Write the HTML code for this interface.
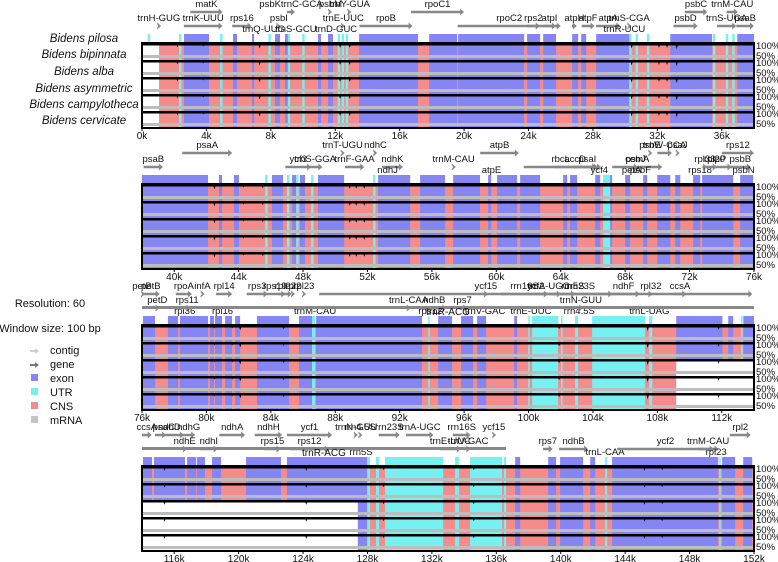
<!DOCTYPE html>
<html><head><meta charset="utf-8"><style>
html,body{margin:0;padding:0;background:#fff;}
svg{display:block;font-family:"Liberation Sans",sans-serif;}
</style></head><body>
<svg id="chart" width="778" height="562" viewBox="0 0 778 562" xmlns="http://www.w3.org/2000/svg"></svg>
<script>
// ---- data (kb, global coordinate) ----
const exonStarts=[2.61,5.65,6.83,8.26,8.88,10.93,11.55,13.48,17.83,19.63,23.91,24.91,26.71,27.27,28.2,32.8,36.96,
 38.0,42.78,43.71,46.07,47.32,47.81,48.93,52.66,55.27,57.32,59.49,60.05,61.48,64.15,64.58,66.14,66.94,68.0,69.12,69.99,71.11,72.22,72.78,75.14,
 76.06,77.61,78.36,80.22,80.53,81.16,81.78,83.14,85.75,86.81,94.39,95.81,96.81,99.11,109.17,112.4,113.34,
 114.06,114.75,116.8,117.4,118.35,120.46,123.0,137.17,139.22,139.96,141.83,143.19,150.02,151.33];
const exonEnds=[4.16,5.9,6.96,8.57,9.07,11.12,11.86,17.14,19.57,23.73,24.72,25.71,27.08,27.58,30.31,35.4,38.0,
 42.1,42.97,44.02,46.76,47.57,48.12,50.55,54.65,56.82,58.99,59.68,61.29,62.72,64.4,65.02,66.45,67.19,68.31,69.37,70.8,71.42,72.66,74.71,75.95,
 76.81,78.24,80.1,80.47,80.97,81.59,82.09,85.13,86.56,93.39,95.25,96.56,97.37,99.29,112.04,112.71,114.0,
 114.62,116.67,117.35,117.91,118.91,122.63,127.98,137.48,139.71,141.39,142.14,149.78,150.83,151.89];
const utrStarts=[0.35,2.3,4.85,7.85,9.05,9.95,12.15,12.4,12.65,30.25,30.65,31.35,35.45,36.25,36.65,
 45.65,47.0,47.58,48.5,52.35,66.63,86.56,93.77,99.98,100.22,102.02,102.89,103.95,107.49,113.2,
 127.98,128.53,129.09,133.44,134.37,136.48,142.76,149.84];
const utrEnds=[0.5,2.45,5.0,8.0,9.2,10.1,12.3,12.55,12.8,30.4,30.8,31.5,35.6,36.4,36.8,
 45.8,47.15,47.72,48.65,52.5,67.07,86.75,93.83,100.04,101.84,102.09,103.08,107.24,107.68,113.3,
 128.16,128.72,132.7,133.69,136.36,136.61,142.88,149.9];
const gapStarts=[0,0,0,0,0,109.17,109.17,109.17,114,114,114];
const gapEnds=[1.06,1.06,1.06,1.06,1.06,114,114,114,127.4,127.4,127.4];
const gapRows=[0,1,2,3,4,2,3,4,2,3,4];
const dipKb=[2.2,3.8,7.3,12.3,12.9,30.4,32.1,32.6,33.2,42.5,44.3,45.5,50.9,51.3,51.8,80.5,81.6,82.1,84.8,101.9,107.4,111.8,115.4,124.2,129.0,134.6,145.2,146.3];
const dipDepth=[0.3,0.2,0.5,0.4,0.4,0.5,0.4,0.4,0.6,0.5,0.2,0.3,0.4,0.4,0.4,0.2,0.2,0.5,0.3,0.3,0.6,0.4,0.4,0.4,0.3,0.3,0.4,0.3];
const tickLabels=["0k","4k","8k","12k","16k","20k","24k","28k","32k","36k","40k","44k","48k","52k","56k","60k","64k","68k","72k","76k",
 "76k","80k","84k","88k","92k","96k","100k","104k","108k","112k","116k","120k","124k","128k","132k","136k","140k","144k","148k","152k"];
const tickKb=[0,4,8,12,16,20,24,28,32,36,40,44,48,52,56,60,64,68,72,76,76,80,84,88,92,96,100,104,108,112,116,120,124,128,132,136,140,144,148,152];
const tickPanel=[0,0,0,0,0,0,0,0,0,0,1,1,1,1,1,1,1,1,1,1,2,2,2,2,2,2,2,2,2,2,3,3,3,3,3,3,3,3,3,3];
const species=["Bidens pilosa","Bidens bipinnata","Bidens alba","Bidens asymmetric","Bidens campylotheca","Bidens cervicate"];
const geneNames=["trnH-GUG","matK","trnK-UUU","rps16","psbKtrnC-GCA","trnY-GUA","psbM","psbI","trnS-GCU","trnQ-UUG","trnE-UUC","trnD-GUC","rpoB","rpoC1","rpoC2","rps2","atpI","atpH","atpF","atpA","trnS-CGA","trnR-UCU","psbD","psbC","trnM-CAU","trnS-UGA","psaB",
 "psaB","psaA","ycf3","trnS-GGA","trnT-UGU","trnF-GAA","ndhC","ndhK","ndhJ","trnM-CAU","atpB","atpE","rbcL","accD","psaI","ycf4","cemA","petA","psbJ","psbF","psbE","trnW-CCA","psaJ","rpl33","rps18","rpl20","clpP","rps12","psbB","psbN","petB",
 "petB","petD","rpoA","rps11","rpl36","infA","rpl14","rpl16","rps3","rps19","rpl22","rpl2","rpl23","trnM-CAU","ycf2","trnL-CAA","ndhB","rps12","rps7","trnV-GAC","ycf15","rrn16S","trnE-UUC","trnA-UGC","rrn23S","rrn5S","trnN-GUU","rrn4.5S","ndhF","rpl32","trnL-UAG","ccsA","trnR-ACG",
 "ccsA","ndhD","psaC","ndhG","ndhE","ndhI","ndhA","ndhH","rps15","ycf1","rps12","trnN-GUU","rrn5S","rrn4.5S","rrn23S","trnA-UGC","trnE-UUC","rrn16S","trnV-GAC","ycf15","trnR-ACG","rps7","ndhB","trnL-CAA","ycf2","trnM-CAU","rpl23","rpl2"];
const geneStart=[1.0,3.0,2.6,5.6,9.0,12.8,11.6,8.4,9.5,7.5,12.4,12.0,13.5,16.7,19.6,23.9,24.9,26.7,27.3,28.2,30.2,29.5,33.0,33.7,36.3,35.7,36.9,
 38.1,40.5,46.9,48.3,50.4,50.6,52.4,52.9,53.2,57.3,59.0,59.5,61.7,63.6,64.8,65.6,67.2,67.4,68.6,68.9,69.5,70.0,71.2,72.9,72.6,73.5,72.8,74.0,74.5,75.3,76.0,
 76.0,76.9,78.1,78.6,78.6,79.7,80.6,80.6,82.5,83.6,84.5,85.3,86.0,86.7,87.0,92.5,93.4,93.4,95.6,96.3,97.3,98.3,99.3,100.5,101.3,102.7,103.2,103.1,104.9,107.5,107.4,109.0,76.0,
 114.0,114.8,115.3,116.5,116.6,117.6,118.8,121.0,121.6,123.0,123.2,127.2,127.5,127.5,128.7,130.4,132.5,133.3,134.2,135.8,114.0,138.9,139.9,142.7,143.5,148.5,149.6,150.5];
const geneEnd=[1.1,5.0,5.0,6.8,9.5,13.0,11.8,8.6,9.6,7.6,12.6,12.1,16.8,20.0,26.0,24.7,25.7,27.0,28.1,29.7,30.3,30.4,34.5,35.1,37.0,36.9,38.0,
 39.3,43.6,48.5,49.2,50.5,51.8,52.6,54.2,53.3,57.4,61.4,59.9,66.3,66.2,66.5,67.2,70.3,69.4,68.7,69.0,69.6,70.9,71.3,73.0,72.7,73.6,74.6,76.0,75.8,75.4,76.0,
 77.1,77.0,79.1,79.0,78.7,79.8,81.6,81.4,83.8,84.9,85.3,85.5,86.1,86.8,113.9,92.6,94.9,94.4,96.2,98.3,97.4,101.2,101.0,102.0,105.2,102.8,103.3,103.2,106.9,107.7,107.6,109.8,114.0,
 114.6,116.6,115.4,117.3,116.7,118.7,120.4,122.7,122.6,125.8,125.6,127.4,127.7,127.6,130.0,132.1,133.8,134.4,134.3,135.9,136.6,139.5,141.7,142.8,149.5,149.8,149.7,151.8];
const geneRow=[1,0,1,1,0,0,0,1,2,2,1,2,1,0,1,1,1,1,1,1,1,2,1,0,0,1,1,
 1,0,1,1,0,1,0,1,2,1,0,2,1,1,1,2,1,2,1,2,0,0,0,1,2,1,1,0,1,2,0,
 0,1,0,1,2,0,0,2,0,0,0,0,0,2,0,1,1,2,1,2,0,0,2,0,0,0,1,2,0,0,2,0,3,
 0,0,0,0,1,1,0,0,1,0,1,0,2,0,0,0,1,0,1,0,3,1,1,2,1,1,2,0];
</script>
<script>
const svg=document.getElementById('chart');
const NS='http://www.w3.org/2000/svg';
const X0=142, PW=612, SPAN=38, TR=17;
const panelTops=[43,184,325,466];
const C_EXON='#8585f4', C_UTR='#76f0f0', C_CNS='#f58b8b';
function mk(tag,attrs,parent){const e=document.createElementNS(NS,tag);for(const k in attrs)e.setAttribute(k,attrs[k]);(parent||svg).appendChild(e);return e;}
function panelOf(kb){return Math.min(3,Math.floor(kb/SPAN+1e-9));}
function xOf(kb,p){return X0+(kb-p*SPAN)*PW/SPAN;}
function spans(s,e,cb){for(let p=0;p<4;p++){const a=Math.max(s,p*SPAN),b=Math.min(e,(p+1)*SPAN);if(b>a)cb(p,xOf(a,p),xOf(b,p));}}

const spY=[42,58,75,92,108,124];
for(let i=0;i<species.length;i++){
  const t=mk('text',{x:84,y:spY[i],'text-anchor':'middle','font-size':'11.5','font-style':'italic',fill:'#111'});
  t.textContent=species[i];
  
  
}
for(let p=0;p<4;p++){
  const top=panelTops[p];
  const g=mk('g',{});
  
  
  mk('rect',{x:X0,y:top,width:PW,height:TR*5,fill:C_CNS},g);
}
for(let i=0;i<exonStarts.length;i++){
  spans(exonStarts[i],exonEnds[i],(p,x1,x2)=>{
    const top=panelTops[p];
    const r=mk('rect',{x:x1,y:top-9,width:x2-x1,height:8,fill:C_EXON});
    
    
    const r2=mk('rect',{x:x1,y:top,width:x2-x1,height:TR*5,fill:C_EXON});
    
    
  });
}
for(let i=0;i<utrStarts.length;i++){
  spans(utrStarts[i],utrEnds[i],(p,x1,x2)=>{
    const top=panelTops[p];const w=Math.max(1.5,x2-x1);
    const r=mk('rect',{x:x1,y:top-9,width:w,height:8,fill:C_UTR});
    
    
    const r2=mk('rect',{x:x1,y:top,width:w,height:TR*5,fill:C_UTR});
    
    
  });
}
for(let i=0;i<gapStarts.length;i++){
  spans(gapStarts[i],gapEnds[i],(p,x1,x2)=>{
    const y=panelTops[p]+gapRows[i]*TR;
    const r=mk('rect',{x:x1,y:y+1,width:x2-x1,height:TR-1,fill:'#fff'});
    
    
  });
}
for(let p=0;p<4;p++){
  const top=panelTops[p];
  for(let r=0;r<5;r++){
    const y=top+r*TR;
    mk('rect',{x:X0,y:y+12,width:PW,height:3,fill:'#bdbdbd'});
    mk('rect',{x:X0,y:y,width:PW,height:2.5,fill:'#000'});
    const a=mk('text',{x:756,y:y+6,'font-size':'9.5',fill:'#111'});a.textContent='100%';
    
    
    const b=mk('text',{x:756,y:y+16,'font-size':'9.5',fill:'#111'});b.textContent='50%';
    
    
  }
  const fr=mk('rect',{x:X0,y:top,width:PW,height:TR*5,fill:'none',stroke:'#000','stroke-width':2});
  
  
}
for(let i=0;i<dipKb.length;i++){
  const p=panelOf(dipKb[i]);const x=xOf(dipKb[i],p);
  for(let r=0;r<5;r++){
    const y=panelTops[p]+r*TR+2;const d=dipDepth[i]*7;
    const t=mk('path',{d:`M${x-1},${y} L${x+1},${y} L${x},${y+d} Z`,fill:'#000'});
    
    
  }
}
for(let i=0;i<tickKb.length;i++){
  const p=tickPanel[i];const x=xOf(tickKb[i],p);const yb=panelTops[p]+TR*5;
  mk('line',{x1:x,y1:yb,x2:x,y2:yb+3,stroke:'#000','stroke-width':1});
  const t=mk('text',{x:x,y:yb+11,'text-anchor':'middle','font-size':'10',fill:'#111'});
  t.textContent=tickLabels[i];
  
  
}
const rowArrowY=[-31,-17,-8,-19];
for(let i=0;i<geneNames.length;i++){
  const s=geneStart[i],e=geneEnd[i];const p=panelOf(s);const row=geneRow[i];
  const x1=xOf(s,p),x2=xOf(Math.min(e,(p+1)*SPAN),p);
  const top=panelTops[p];
  if(row===3){
    mk('rect',{x:x1,y:top-19,width:x2-x1,height:3,fill:'#888'});
    const t=mk('text',{x:(x1+x2)/2,y:top-10,'text-anchor':'middle','font-size':'10',fill:'#111'});
    t.textContent=geneNames[i];
    
    
    continue;
  }
  const ay=top+rowArrowY[row];
  if(row<2){
    const w=Math.max(3,x2-x1);
    const ar=mk('path',{d:`M${x1},${ay-1.3} L${x1+w-4},${ay-1.3} L${x1+w-4},${ay-3.5} L${x1+w},${ay} L${x1+w-4},${ay+3.5} L${x1+w-4},${ay+1.3} L${x1},${ay+1.3} Z`,fill:'#888'});
    
    
  }
  const ly=row===2?top-11:ay-5;
  const t=mk('text',{x:(x1+x2)/2,y:ly,'text-anchor':'middle','font-size':'9.5',fill:'#111'});
  t.textContent=geneNames[i];
  
  
}
const lt1=mk('text',{x:50,y:307,'text-anchor':'middle','font-size':'11',fill:'#111'});lt1.textContent='Resolution: 60';


const lt2=mk('text',{x:50,y:332,'text-anchor':'middle','font-size':'11',fill:'#111'});lt2.textContent='Window size: 100 bp';


const legNames=['contig','gene','exon','UTR','CNS','mRNA'];
const legY=[354,368,382,396,410,424];
const legCol=['#cfcfcf','#777',C_EXON,C_UTR,C_CNS,'#c4c4c4'];
for(let i=0;i<6;i++){
  const y=legY[i];
  if(i<2){mk('path',{d:`M30,${y-4} L35,${y-4} L35,${y-6} L39,${y-3} L35,${y} L35,${y-2} L30,${y-2} Z`,fill:legCol[i]});}
  else{mk('rect',{x:31,y:y-8,width:7,height:7,fill:legCol[i]});}
  const t=mk('text',{x:50,y:y,'font-size':'11',fill:'#111'});t.textContent=legNames[i];
  
  
}
</script>
</body></html>
